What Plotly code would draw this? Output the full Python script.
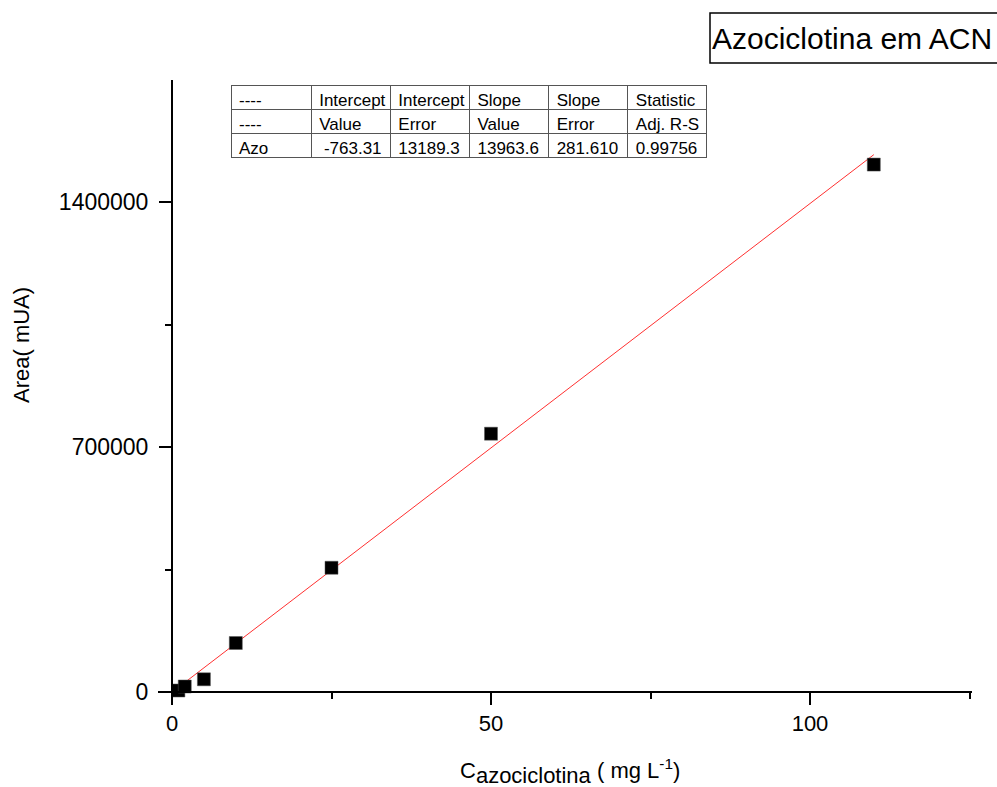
import plotly.graph_objects as go

# ---- data ----
conc = [1, 2, 5, 10, 25, 50, 110]
area = [4300, 15700, 36300, 140000, 355000, 738000, 1507000]

intercept_value = -763.31
intercept_error = 13189.3
slope_value = 13963.6
slope_error = 281.610
adj_r2 = 0.99756

fit_x = [min(conc), max(conc)]
fit_y = [intercept_value + slope_value * v for v in fit_x]

table_header = ["----", "Intercept", "Intercept", "Slope", "Slope", "Statistic"]
table_sub = ["----", "Value", "Error", "Value", "Error", "Adj.\u00a0R-S"]
table_row = ["Azo", "\u00a0-763.31", "13189.3", "13963.6", "281.610", "0.99756"]

x_ticks = [0, 50, 100]
y_ticks = [0, 700000, 1400000]

title_text = "Azociclotina em ACN"
y_title = "Area( mUA)"

# ---- layout geometry (pixels) ----
W, H = 997, 787
L, R, T, B = 158, 25, 80, 84
PW, PH = W - L - R, H - T - B
x_px0, x_scale = 172.0, 6.38      # pixel of x=0, px per unit
y_px0, y_scale = 692.0, 3.5e-4    # pixel of y=0, px per unit

xmin = (L - x_px0) / x_scale
xmax = (W - R - x_px0) / x_scale
ymin = (y_px0 - (H - B)) / y_scale
ymax = (y_px0 - T) / y_scale


def px(xp):
    return (xp - L) / PW


def py(yp):
    return (H - B - yp) / PH


FONT = "Arial, Liberation Sans, sans-serif"

fig = go.Figure()

fig.add_trace(go.Scatter(
    x=fit_x, y=fit_y, mode="lines",
    line=dict(color="#ff3030", width=1), showlegend=False, hoverinfo="skip"))

fig.add_trace(go.Scatter(
    x=conc, y=area, mode="markers",
    marker=dict(symbol="square", size=13, color="black",
                line=dict(color="#555555", width=0.5)),
    showlegend=False))

cells_vals = [[table_sub[i], table_row[i]] for i in range(len(table_header))]
fig.add_trace(go.Table(
    domain=dict(x=[px(231), px(706)], y=[py(162), py(85)]),
    columnwidth=[80, 79, 79, 79, 79, 78],
    header=dict(values=table_header, height=24, align="left",
                font=dict(family=FONT, size=17, color="black"),
                fill_color="white", line=dict(color="#555555", width=1)),
    cells=dict(values=cells_vals, height=24, align="left",
               font=dict(family=FONT, size=17, color="black"),
               fill_color="white", line=dict(color="#555555", width=1)),
))

fig.update_layout(
    width=W, height=H,
    margin=dict(l=L, r=R, t=T, b=B, pad=0),
    paper_bgcolor="white", plot_bgcolor="white",
    font=dict(family=FONT, color="black"),
    xaxis=dict(
        range=[xmin, xmax], domain=[0, 1], anchor="free",
        position=(0 - ymin) / (ymax - ymin),
        showgrid=False, zeroline=False,
        showline=True, linecolor="black", linewidth=2,
        ticks="outside", ticklen=12, tickwidth=2, tickcolor="black",
        tickmode="array", tickvals=x_ticks,
        tickfont=dict(size=22, color="black", family=FONT),
        minor=dict(ticks="outside", ticklen=6, tickwidth=2,
                   tickcolor="black", dtick=25, tick0=0, showgrid=False),
    ),
    yaxis=dict(
        range=[ymin, ymax], domain=[0, 1], anchor="free",
        position=(0 - xmin) / (xmax - xmin),
        showgrid=False, zeroline=False,
        showline=True, linecolor="black", linewidth=2,
        ticks="outside", ticklen=12, tickwidth=2, tickcolor="black",
        tickmode="array", tickvals=y_ticks,
        tickformat="d", ticklabelstandoff=6,
        tickfont=dict(size=23, color="black", family=FONT),
        minor=dict(ticks="outside", ticklen=6, tickwidth=2,
                   tickcolor="black", dtick=350000, tick0=0, showgrid=False),
    ),
)

# title box
fig.add_shape(type="rect", xref="paper", yref="paper",
              x0=px(710), x1=px(1002), y0=py(63), y1=py(13),
              line=dict(color="black", width=1.5), fillcolor="white", layer="above")
fig.add_annotation(xref="paper", yref="paper", x=px(710), y=py(38),
                   xanchor="left", yanchor="middle", showarrow=False,
                   text=title_text, font=dict(size=30, color="black", family=FONT))

# axis titles
fig.add_annotation(xref="paper", yref="paper", x=px(22), y=py(345),
                   xanchor="center", yanchor="middle", showarrow=False,
                   textangle=-90, text=y_title,
                   font=dict(size=22, color="black", family=FONT))
fig.add_annotation(xref="paper", yref="paper", x=px(570), y=py(753),
                   xanchor="center", yanchor="top", showarrow=False,
                   text="C<sub><span style='font-size:22px'>azociclotina</span></sub>"
                        " ( mg L<sup>-1</sup>)",
                   font=dict(size=22, color="black", family=FONT))

fig.write_html("out.html")
